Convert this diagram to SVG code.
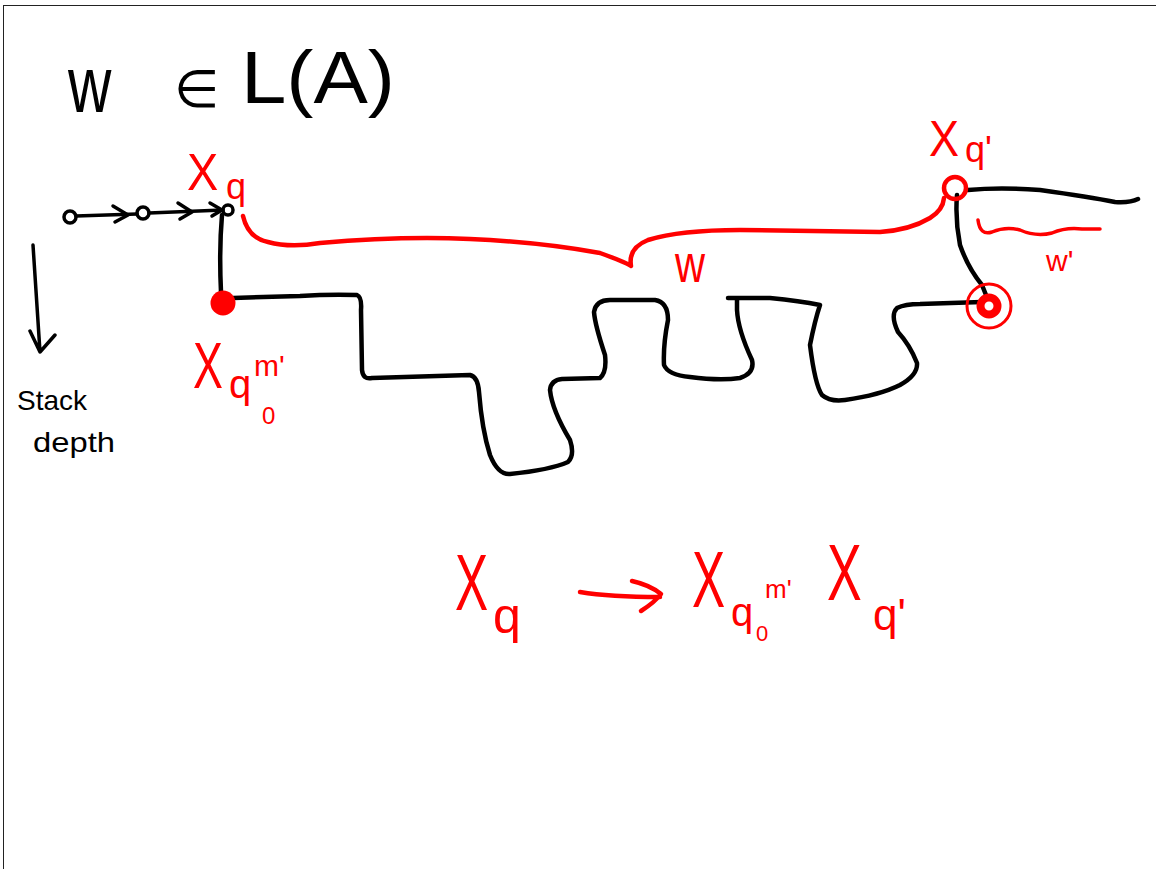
<svg xmlns="http://www.w3.org/2000/svg" width="1156" height="869" viewBox="0 0 1156 869">
<style>
.k{fill:none;stroke:#000;stroke-width:4.5;stroke-linecap:round;stroke-linejoin:round}
.kt{fill:none;stroke:#000;stroke-width:3.5;stroke-linecap:round;stroke-linejoin:round}
.r{fill:none;stroke:#f00;stroke-width:4.5;stroke-linecap:round;stroke-linejoin:round}
.rt{fill:none;stroke:#f00;stroke-width:3.5;stroke-linecap:round;stroke-linejoin:round}
.tb{font-family:"Liberation Sans",Arial,sans-serif;fill:#000}
.tr{font-family:"Liberation Sans",Arial,sans-serif;fill:#f00}
</style>
<rect x="3.5" y="5.5" width="1160" height="870" fill="#fff" stroke="#222" stroke-width="1"/>

<g id="title">
<text class="tb" transform="translate(68,112) scale(0.75,1)" font-size="80">w</text>
<text class="tb" x="174" y="107" font-size="52">∈</text>
<text class="tb" x="241" y="103" font-size="74" textLength="154" lengthAdjust="spacingAndGlyphs">L(A)</text>
</g>

<g id="stack-depth">
<path class="kt" d="M33,245 L40,352 M30,331 L40,352 L55,335"/>
<text class="tb" x="17" y="410" font-size="28">Stack</text>
<text class="tb" x="33" y="452" font-size="28" textLength="82" lengthAdjust="spacingAndGlyphs">depth</text>
</g>

<g id="connectors">
<g id="chain">
<circle class="kt" cx="70" cy="217" r="6"/>
<circle class="kt" cx="143" cy="213" r="6"/>
<circle class="kt" cx="228" cy="210" r="5"/>
<path class="kt" d="M76,216 L137,214 M149,213 L223,210"/>
<path class="kt" d="M113,206 L128,215 L115,222 M178,203 L192,212 L180,219 M210,203 L222,210 L212,216"/>
<path class="k" d="M222,215 Q219,250 221,292"/>
</g>
<path id="stack-path" class="k" d="M233,298 L300,296 Q330,294 357,295 Q362,297 361,310 L362,370 Q363,380 372,378 L470,375 Q478,377 479,392 Q482,430 490,455 Q498,475 510,474 Q550,470 568,462 Q575,455 570,440 Q552,410 550,390 Q551,380 562,379 L600,378 Q607,372 605,355 Q595,325 594,312 Q596,300 610,300 L655,300 Q668,302 668,320 Q663,345 664,365 Q668,375 690,377 Q720,381 740,378 Q755,373 752,360 Q738,330 737,310 L737,300 M728,298 L770,298 Q800,301 820,305 Q815,320 810,345 Q815,385 822,395 Q830,402 845,400 Q880,395 900,385 Q918,375 917,363 Q910,345 898,332 Q890,315 897,308 Q905,304 920,304 L982,302"/>
<path id="after-path" class="k" d="M968,190 Q1000,187 1040,190 Q1090,197 1115,202 Q1130,203 1138,199"/>
<path id="pop-path" class="k" d="M957,195 Q955,220 960,245 Q968,268 982,285 L988,300"/>
<path id="brace" class="r" d="M243,216 Q248,238 268,242 Q290,248 320,243 Q400,236 470,239 Q540,242 600,253 Q625,262 631,266 Q628,248 648,240 Q680,230 740,230 Q820,231 880,232 Q910,230 930,218 Q943,210 944,198"/>
<path id="w-prime" class="rt" d="M978,220 Q980,236 992,232 Q1006,226 1020,230 Q1036,237 1052,233 Q1066,227 1082,229 L1100,229"/>
</g>

<g id="node-xq">
<circle cx="223" cy="303" r="12.5" fill="#f00"/>
<text class="tr" transform="translate(187,190) scale(0.9,1)" font-size="52">X</text>
<text class="tr" x="226" y="199" font-size="36">q</text>
</g>

<g id="node-xq0m">
<text class="tr" transform="translate(193,388) scale(0.7,1)" font-size="64">X</text>
<text class="tr" x="229" y="398" font-size="40">q</text>
<text class="tr" x="254" y="376" font-size="30">m'</text>
<text class="tr" x="262" y="424" font-size="24">0</text>
</g>

<g id="node-xqp">
<circle class="r" cx="955" cy="188" r="11" stroke-width="5"/>
<text class="tr" transform="translate(929,156) scale(0.9,1)" font-size="50">X</text>
<text class="tr" x="965" y="162" font-size="36">q'</text>
</g>

<g id="node-target">
<circle cx="989" cy="306" r="22" fill="none" stroke="#f00" stroke-width="3"/>
<circle cx="989" cy="306" r="8.5" fill="#fff" stroke="#f00" stroke-width="8"/>
</g>

<g id="labels">
<text class="tr" transform="translate(675,282) scale(0.8,1)" font-size="52">w</text>
<text class="tr" x="1046" y="271" font-size="30">w'</text>
</g>

<g id="formula">
<text class="tr" transform="translate(455,610) scale(0.62,1)" font-size="80">X</text>
<text class="tr" x="493" y="633" font-size="50">q</text>
<path class="r" d="M580,592 Q610,597 660,597 M632,581 Q650,585 661,594 Q655,602 641,611"/>
<text class="tr" transform="translate(692,607) scale(0.62,1)" font-size="80">X</text>
<text class="tr" x="731" y="626" font-size="40">q</text>
<text class="tr" x="765" y="598" font-size="26">m'</text>
<text class="tr" x="756" y="641" font-size="22">0</text>
<text class="tr" transform="translate(827,600) scale(0.65,1)" font-size="80">X</text>
<text class="tr" x="873" y="630" font-size="44">q'</text>
</g>
</svg>
